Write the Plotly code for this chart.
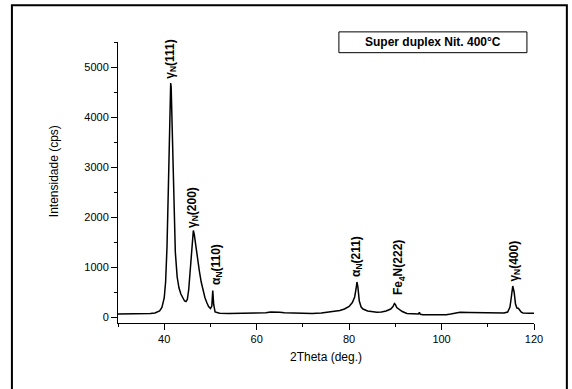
import plotly.graph_objects as go

two_theta = [30, 32, 34, 36, 37, 38, 38.5, 39, 39.5, 40, 40.3, 40.6, 40.9, 41.1, 41.3, 41.4,
             41.5, 41.7, 41.9, 42.1, 42.4, 42.8, 43.2, 43.6, 44.0, 44.4, 44.7, 45.0, 45.3, 45.6,
             45.9, 46.1, 46.3, 46.5, 46.7, 47.0, 47.3, 47.6, 48.0, 48.4, 48.8, 49.2, 49.6, 50.0,
             50.3, 50.5, 50.7, 51.0, 51.5, 52, 54, 56, 58, 60, 62, 63, 64, 65, 66, 68, 70, 72,
             74, 76, 78, 79, 80, 80.7, 81.2, 81.5, 81.7, 81.9, 82.2, 82.6, 83, 84, 85, 86, 87,
             88, 89, 89.5, 89.8, 90.0, 90.3, 90.8, 91.5, 92.5, 94, 95, 95.2, 95.4, 96, 98, 100,
             101, 102, 103, 104, 106, 108, 110, 112, 113.5, 114.3, 114.8, 115.1, 115.4, 115.7,
             116.0, 116.3, 116.6, 116.9, 117.2, 117.6, 118, 119, 120]
intensity = [60, 60, 62, 65, 70, 80, 95, 120, 190, 380, 700, 1400, 2600, 3700, 4500, 4680,
             4600, 3900, 2900, 2000, 1300, 800, 580, 460, 380, 320, 310, 350, 550, 900,
             1350, 1620, 1730, 1650, 1500, 1300, 1100, 920, 700, 520, 390, 290, 210, 170,
             220, 530, 250, 100, 80, 75, 70, 70, 72, 80, 85, 100, 105, 95, 85, 75, 65, 70,
             80, 100, 130, 160, 210, 290, 400, 560, 700, 600, 320, 200, 160, 120, 100, 95, 100,
             120, 160, 210, 270, 250, 190, 150, 110, 70, 55, 60, 95, 55, 45, 40, 40,
             45, 60, 85, 95, 90, 85, 85, 80, 80, 100, 200, 400, 620, 500,
             260, 180, 175, 140, 100, 80, 75, 75, 75]

peak_labels = ["γ<sub>N</sub>(111)", "γ<sub>N</sub>(200)", "α<sub>N</sub>(110)",
               "α<sub>N</sub>(211)", "Fe<sub>4</sub>N(222)", "γ<sub>N</sub>(400)"]
label_x = [41.4, 46.1, 51.3, 81.7, 90.7, 115.8]
label_y = [4730, 1740, 600, 770, 400, 670]

x_ticks = [40, 60, 80, 100, 120]
y_ticks = [0, 1000, 2000, 3000, 4000, 5000]

FONT = "Liberation Sans, Arial, sans-serif"

fig = go.Figure()
fig.add_trace(go.Scatter(x=two_theta, y=intensity, mode="lines",
                         line=dict(color="black", width=1.5), showlegend=False,
                         hoverinfo="skip"))

for t, lx, ly in zip(peak_labels, label_x, label_y):
    fig.add_annotation(x=lx, y=ly, xref="x", yref="y", text="<b>" + t + "</b>",
                       textangle=-90, showarrow=False, xanchor="center", yanchor="bottom",
                       font=dict(family=FONT, size=12, color="black"))

# legend-like box
fig.add_shape(type="rect", xref="paper", yref="paper", x0=0.531, x1=0.983, y0=0.962, y1=1.036,
              line=dict(color="black", width=1), fillcolor="white")
fig.add_annotation(x=0.757, y=0.999, xref="paper", yref="paper",
                   text="<b>Super duplex Nit. 400°C</b>", showarrow=False,
                   xanchor="center", yanchor="middle",
                   font=dict(family=FONT, size=12, color="black"))

# outer frame
fig.add_shape(type="rect", xref="paper", yref="paper", x0=-0.255, x1=1.079, y0=-0.26, y1=1.131,
              line=dict(color="black", width=2), fillcolor="rgba(0,0,0,0)")

# y axis title
fig.add_annotation(x=-0.154, y=0.54, xref="paper", yref="paper", text="Intensidade (cps)",
                   textangle=-90, showarrow=False, xanchor="center", yanchor="middle",
                   font=dict(family=FONT, size=12, color="black"))

fig.update_layout(
    width=572, height=389,
    margin=dict(l=118, r=38, t=42, b=66),
    paper_bgcolor="white", plot_bgcolor="white",
    font=dict(family=FONT, size=11, color="black"),
    xaxis=dict(range=[30, 120], tickvals=x_ticks, ticks="outside", ticklen=6, tickwidth=1,
               tickcolor="black", showline=True, linecolor="black", linewidth=1,
               showgrid=False, zeroline=False, mirror=False,
               minor=dict(dtick=10, tick0=30, ticks="outside", ticklen=3, tickcolor="black"),
               title=dict(text="2Theta (deg.)", font=dict(family=FONT, size=12), standoff=8),
               tickfont=dict(family=FONT, size=11)),
    yaxis=dict(range=[-120, 5500], tickvals=y_ticks, ticks="outside", ticklen=6, tickwidth=1,
               tickcolor="black", showline=True, linecolor="black", linewidth=1,
               showgrid=False, zeroline=False, mirror=False,
               minor=dict(dtick=500, tick0=0, ticks="outside", ticklen=3, tickcolor="black"),
               tickfont=dict(family=FONT, size=11)),
)

fig.write_html("out.html")
